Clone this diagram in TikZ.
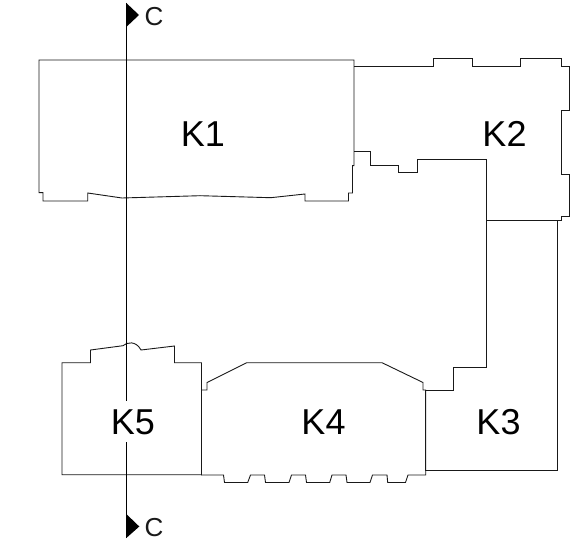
\documentclass[tikz,border=0pt]{standalone}
\usepackage{fontspec}
\setmainfont{Liberation Sans}
\tikzset{
  plan/.style={draw=black!90,line width=0.9bp,line join=miter},
  section/.style={draw=black,line width=0.9bp},
  flag/.style={fill=black,draw=none},
  roomlabel/.style={anchor=base,inner sep=0pt,font=\fontsize{36bp}{36bp}\selectfont,text=black},
  cutlabel/.style={anchor=base west,inner sep=0pt,font=\fontsize{26bp}{26bp}\selectfont,text=black!90}
}
\begin{document}
\begin{tikzpicture}[x=1bp,y=-1bp]
\useasboundingbox (0,0) rectangle (573,540);
% K1
\draw[plan] (39,60) -- (39,192.7) -- (43,192.7) -- (43,201) -- (87.7,201) -- (87.7,193) -- (122,198) -- (200,195.7) -- (270.7,197.7) -- (305,194) -- (305,201) -- (348.5,201) -- (348.5,193) -- (352.5,193) -- (352.5,165.7) -- (354,165.7) -- (354,60) -- cycle;
% K2
\draw[plan] (354,66) -- (433,66) -- (433,58.5) -- (472,58.5) -- (472,66) -- (520,66) -- (520,58.5) -- (561,58.5) -- (561,66) -- (569,66) -- (569,110.5) -- (561.5,110.5) -- (561.5,174) -- (569,174) -- (569,216.7) -- (561,216.7) -- (561,220.7) -- (486,220.7) -- (486,159) -- (417.5,159) -- (417.5,172) -- (398,172) -- (398,165) -- (370,165) -- (370,151) -- (354,151);
% K3
\draw[plan] (486.7,220.7) -- (486.7,367) -- (453,367) -- (453,390) -- (425.7,390) -- (425.7,470.7) -- (557.7,470.7) -- (557.7,220.7);
% K4
\draw[plan] (201.5,475) -- (201.5,390) -- (207,390) -- (207,382.5) -- (246.7,362.7) -- (382,362.7) -- (423,382.5) -- (423,390) -- (425.7,390) -- (425.7,475) -- (408,475) -- (405.5,482.5) -- (387.7,482.5) -- (387,475) -- (372.5,475) -- (370,482.5) -- (347,482.5) -- (346,475) -- (332,475) -- (329.7,482.5) -- (306.5,482.5) -- (305.5,475) -- (291.5,475) -- (289,482.5) -- (265.5,482.5) -- (264.5,475) -- (250.5,475) -- (247.7,482.5) -- (224.5,482.5) -- (223.5,475) -- cycle;
% K5
\draw[plan] (62,474.7) -- (62,362.7) -- (90.5,362.7) -- (90.5,350) -- (123,345.7) .. controls (127,342) and (136,340.5) .. (141,350) -- (174.5,346) -- (174.5,362.7) -- (201.5,362.7) -- (201.5,474.7) -- cycle;
% section line and its flags
\coordinate (cuttop) at (126.3,3);
\coordinate (cutbottom) at (126.3,538);
\draw[section] (cuttop) -- (cutbottom);
\fill[flag] (cuttop) -- (139,15) -- (126.3,27) -- cycle;
\fill[flag] (126.3,514) -- (139.3,526.5) -- (cutbottom) -- cycle;
\node[cutlabel] (ctop) at (144.5,25.5) {C};
\node[cutlabel] (cbottom) at (144.5,536.5) {C};
% labels
\node[roomlabel] (k1) at (203,146.5) {K1};
\node[roomlabel] (k2) at (504.5,146.5) {K2};
\node[roomlabel] (k3) at (498.5,434) {K3};
\node[roomlabel] (k4) at (323.5,434) {K4};
\node[roomlabel,fill=white,inner sep=8bp] (k5) at (133,434) {K5};
\end{tikzpicture}
\end{document}
